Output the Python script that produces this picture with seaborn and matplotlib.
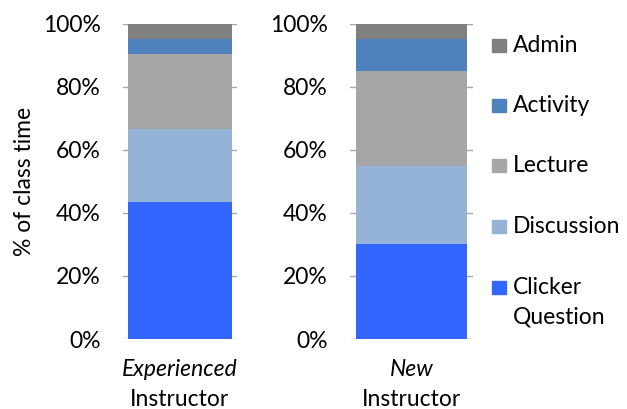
import matplotlib
matplotlib.use("Agg")
import matplotlib.pyplot as plt
from matplotlib.patches import Rectangle
from matplotlib.ticker import PercentFormatter
import numpy as np
import pandas as pd
import seaborn as sns

# Share of class time (%) by activity, bottom to top of each stack
activities = ["Clicker\nQuestion", "Discussion", "Lecture", "Activity", "Admin"]
experienced = [43.5, 23.0, 24.0, 4.5, 5.0]
new = [30.0, 25.0, 30.0, 10.0, 5.0]
instructors_top = ["Experienced", "New"]
instructors_bottom = ["Instructor", "Instructor"]
colors = ["#3366FF", "#95B3D7", "#A6A6A6", "#4F81BD", "#808080"]
yticks = [0, 20, 40, 60, 80, 100]

sns.set_theme(style="white")
plt.rcParams["font.family"] = ["Lato", "DejaVu Sans"]
plt.rcParams["text.color"] = "black"
FS = 16.5

fig = plt.figure(figsize=(6.27, 4.09), dpi=100)
W, H = 627, 409
ax_boxes = [(123, 237), (350, 473)]
y_top, y_bot = 23.7, 339
series = [experienced, new]

for i, (x0, x1) in enumerate(ax_boxes):
    ax = fig.add_axes([x0 / W, 1 - y_bot / H, (x1 - x0) / W, (y_bot - y_top) / H])
    df = pd.DataFrame({"activity": activities, "share": series[i]})
    df["top"] = df["share"].cumsum()
    # draw cumulative totals from the top down so each layer covers the one above
    for j in range(len(df) - 1, -1, -1):
        sns.barplot(x=[0], y=[df["top"].iloc[j]], color=colors[j], width=0.91,
                    saturation=1, linewidth=0, ax=ax, zorder=2)
    ax.set_ylim(0, 100)
    ax.set_xlim(-0.5, 0.5)
    ax.set_yticks(yticks)
    ax.yaxis.set_major_formatter(PercentFormatter(decimals=0))
    ax.tick_params(axis="y", labelsize=FS, length=0, pad=16, labelcolor="black")
    ax.set_xticks([])
    ax.set_xlabel("")
    ax.set_ylabel("")
    ax.grid(axis="y", color="#A6A6A6", linewidth=1, zorder=0)
    for s in ax.spines.values():
        s.set_visible(False)
    cx = 0.5
    ax.text(cx, -0.062, instructors_top[i], transform=ax.transAxes, ha="center",
            va="top", fontsize=FS, style="italic", color="black")
    ax.text(cx, -0.157, instructors_bottom[i], transform=ax.transAxes, ha="center",
            va="top", fontsize=FS, color="black")
    if i == 0:
        ax.set_ylabel("% of class time", fontsize=FS, labelpad=6, color="black")

# legend on the right, Admin at the top
leg_y = [45, 105, 165, 226, 287]
for k, j in enumerate(range(len(activities) - 1, -1, -1)):
    yc = leg_y[k]
    fig.patches.append(Rectangle((492 / W, 1 - (yc + 7) / H), 14 / W, 13 / H,
                                 transform=fig.transFigure, color=colors[j]))
    fig.text(513 / W, 1 - (yc - 10) / H, activities[j], ha="left", va="top",
             fontsize=FS, linespacing=1.5, color="black")

fig.savefig("out.png", dpi=100)
